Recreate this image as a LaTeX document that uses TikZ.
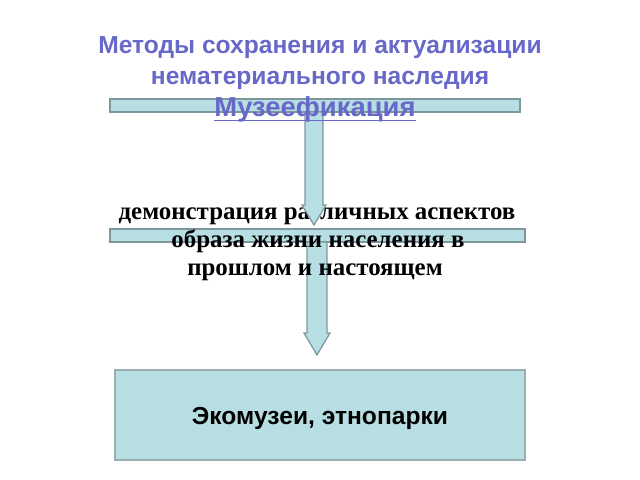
\documentclass[tikz,border=0pt]{standalone}
\usepackage{fontspec}
\setmainfont{Liberation Serif}
\setsansfont{Liberation Sans}
\usetikzlibrary{calc}

\definecolor{barfill}{RGB}{183,223,227}
\definecolor{barline}{RGB}{125,152,156}
\definecolor{titleblue}{RGB}{104,104,200}

\begin{document}
\begin{tikzpicture}[x=0.025cm, y=-0.025cm,
    bar/.style = {draw=barline, fill=barfill, line width=0.9pt, minimum height=0.325cm, inner sep=0pt},
    blockarrow/.style = {draw=barline, fill=barfill, line width=0.9pt, line join=miter},
    heading/.style = {text=titleblue, font=\sffamily\bfseries\fontsize{17.5}{21}\selectfont, anchor=base, inner sep=0pt},
    aspect/.style = {font=\rmfamily\bfseries\fontsize{17.7}{21}\selectfont, anchor=base, inner sep=0pt}]
    \useasboundingbox (0,0) rectangle (640,480);

    \node[bar, minimum width=10.25cm] (bar1) at (315,105.5) {};
    \node[bar, minimum width=10.375cm] (bar2) at (317.5,235.5) {};
    \node[bar, minimum width=10.25cm, minimum height=2.25cm, line width=1pt, draw=barline!80] (box) at (320,415) {};

    \coordinate (a1top) at (314,112);
    \coordinate (a1tip) at (314,225);
    \coordinate (a2top) at (317,242);
    \coordinate (a2tip) at (317,355);

    % second arrow sits behind the text
    \draw[blockarrow] ($(a2top)+(-10,0)$) -- ($(a2tip)+(-10,-22)$) -- ($(a2tip)+(-13,-22)$) -- (a2tip)
        -- ($(a2tip)+(13,-22)$) -- ($(a2tip)+(10,-22)$) -- ($(a2top)+(10,0)$) -- cycle;

    \node[aspect] (asp1) at (317,219) {демонстрация различных аспектов};
    \node[aspect] (asp2) at (318,247) {образа жизни населения в};
    \node[aspect] (asp3) at (315,275) {прошлом и настоящем};

    % first arrow covers the first line
    \draw[blockarrow] ($(a1top)+(-9,0)$) -- ($(a1tip)+(-9,-20)$) -- ($(a1tip)+(-12,-20)$) -- (a1tip)
        -- ($(a1tip)+(12,-20)$) -- ($(a1tip)+(9,-20)$) -- ($(a1top)+(9,0)$) -- cycle;

    \node[heading] (head1) at (320,54) {Методы сохранения и актуализации};
    \node[heading] (head2) at (320,84) {нематериального наследия};
    \node[heading, font=\sffamily\bfseries\fontsize{19.5}{22}\selectfont] (muz) at (315,116) {Музеефикация};
    \draw[titleblue, line width=1.3pt] ($(muz.base west)+(0,4.5)$) -- ($(muz.base east)+(0,4.5)$);

    \node[anchor=base, inner sep=0pt, font=\sffamily\bfseries\fontsize{17.5}{21}\selectfont] (eco) at (320,424) {Экомузеи, этнопарки};
\end{tikzpicture}
\end{document}
